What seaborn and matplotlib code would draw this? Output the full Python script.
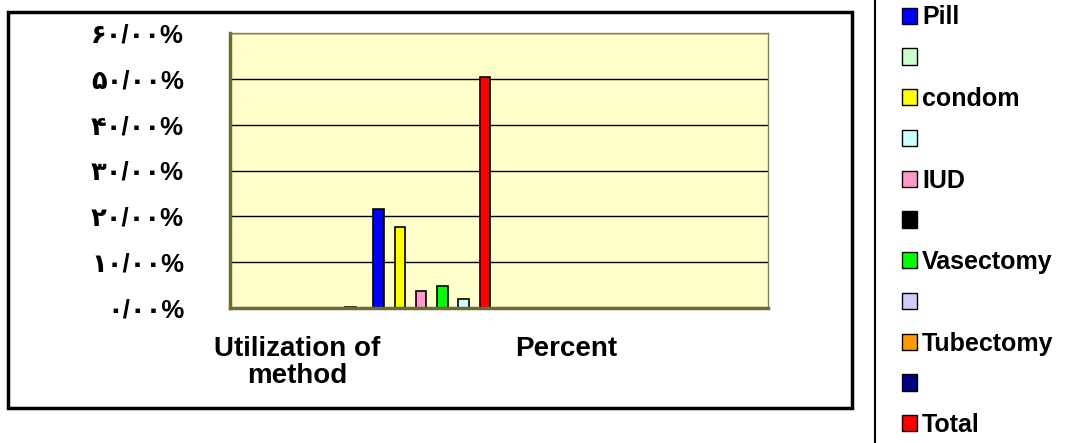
import matplotlib.pyplot as plt
import matplotlib.patches as mpatches
import matplotlib.lines as mlines
import pandas as pd
import seaborn as sns

# %%
categories = ["Utilization of\nmethod", "blank_1", "Percent", "blank_2"]
category_labels = ["Utilization of\nmethod", "", "Percent", ""]

series = ["Pill", "s2", "condom", "s4", "IUD", "s6",
          "Vasectomy", "s8", "Tubectomy", "s10", "Total"]
series_labels = ["Pill", "", "condom", "", "IUD", "",
                 "Vasectomy", "", "Tubectomy", "", "Total"]

pill = [0.0, 0.217, 0.0, 0.0]
s2 = [0.0, 0.0, 0.0, 0.0]
condom = [0.0, 0.177, 0.0, 0.0]
s4 = [0.0, 0.0, 0.0, 0.0]
iud = [0.0, 0.038, 0.0, 0.0]
s6 = [0.0, 0.0, 0.0, 0.0]
vasectomy = [0.0, 0.049, 0.0, 0.0]
s8 = [0.0, 0.0, 0.0, 0.0]
tubectomy = [0.0, 0.020, 0.0, 0.0]
s10 = [0.0, 0.0, 0.0, 0.0]
total = [0.003, 0.504, 0.0, 0.0]

legend_colors = ["#0000FF", "#CCFFCC", "#FFFF00", "#CCFFFF", "#FF99CC", "#000000",
                 "#00FF00", "#CCCCFF", "#FF9900", "#000080", "#FF0000"]
# the tubectomy column is drawn pale cyan in the original, not orange
bar_colors = legend_colors.copy()
bar_colors[8] = "#CCFFFF"

y_ticks = [0, 10, 20, 30, 40, 50, 60]

# %%
values = [pill, s2, condom, s4, iud, s6, vasectomy, s8, tubectomy, s10, total]
df = pd.DataFrame(
    [(s, c, v) for s, vals in zip(series, values) for c, v in zip(categories, vals)],
    columns=["series", "category", "value"],
)

persian = str.maketrans("0123456789", "۰۱۲۳۴۵۶۷۸۹")

sns.set_theme(style="white")
plt.rcParams["font.family"] = ["Liberation Sans", "DejaVu Sans"]
plt.rcParams["font.weight"] = "bold"
plt.rcParams["text.color"] = "black"
plt.rcParams["xtick.color"] = "black"
plt.rcParams["ytick.color"] = "black"

fig = plt.figure(figsize=(10.82, 4.43), dpi=100)
ax = fig.add_axes([230 / 1082, 135 / 443, 538 / 1082, 275 / 443])
ax.set_facecolor("#FFFFCC")

sns.barplot(
    data=df,
    x="category",
    y="value",
    hue="series",
    order=categories,
    hue_order=series,
    palette=bar_colors,
    saturation=1,
    width=0.87,
    gap=0,
    edgecolor="black",
    linewidth=1.2,
    errorbar=None,
    legend=False,
    ax=ax,
)

ax.set_xlim(-0.5, 3.5)
ax.set_ylim(0, 0.6)
ax.set_yticks([t / 100 for t in y_ticks])
ax.set_yticklabels([f"{t}/00%".translate(persian) for t in y_ticks], fontsize=18.5, fontweight="bold")
ax.yaxis.grid(True, color="black", linewidth=1)
ax.set_axisbelow(True)

ax.set_xticks([-0.5, 0.5, 1.5, 2.5])
ax.set_xticklabels([])
ax.set_xticks(range(len(categories)), minor=True)
ax.set_xticklabels(category_labels, minor=True, fontsize=20, fontweight="bold", linespacing=1.05)
ax.tick_params(axis="x", which="minor", length=0, pad=20)
ax.tick_params(axis="both", which="major", direction="out", length=6, width=1.5, color="black")
ax.tick_params(axis="y", pad=27)
ax.set_xlabel("")
ax.set_ylabel("")

for side in ["left", "bottom"]:
    ax.spines[side].set_color("#6b6b3a")
    ax.spines[side].set_linewidth(2.5)
for side in ["top", "right"]:
    ax.spines[side].set_color("#80805a")
    ax.spines[side].set_linewidth(1)

# chart frame and the separator line at the right
fig.add_artist(mpatches.Rectangle((8 / 1082, 35 / 443), 844 / 1082, 396 / 443,
                                  transform=fig.transFigure, fill=False,
                                  edgecolor="black", linewidth=2.5))
fig.add_artist(mlines.Line2D([875 / 1082, 875 / 1082], [0, 1],
                             transform=fig.transFigure, color="black", linewidth=1.5))

handles = [mpatches.Patch(facecolor=c, edgecolor="black", linewidth=1) for c in legend_colors]
fig.legend(
    handles,
    series_labels,
    loc="upper left",
    bbox_to_anchor=(899 / 1082, 1 - 3 / 443),
    frameon=False,
    prop={"size": 18, "weight": "bold"},
    handlelength=0.62,
    handleheight=0.62,
    handletextpad=0.2,
    labelspacing=0.67,
    borderaxespad=0,
    borderpad=0.1,
)

fig.savefig("out.png", dpi=100)
